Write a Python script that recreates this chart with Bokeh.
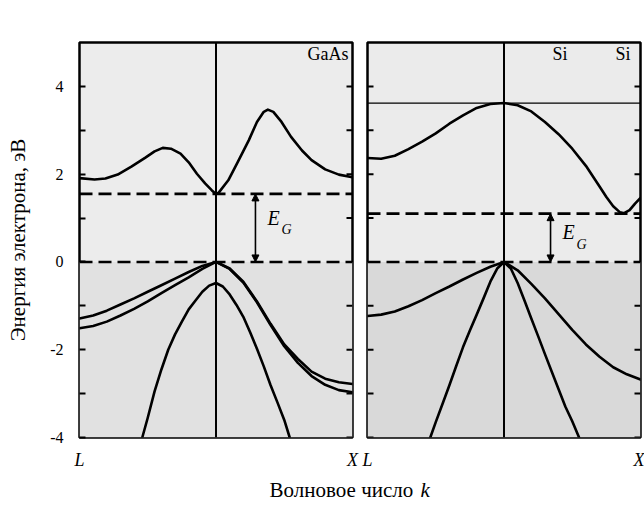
from math import pi

from bokeh.embed import file_html
from bokeh.layouts import column, row
from bokeh.models import (Arrow, BoxAnnotation, FixedTicker, Label, LinearAxis,
                          NormalHead, Range1d, Span)
from bokeh.plotting import figure
from bokeh.resources import INLINE

SERIF = "Liberation Serif"

# Wave vector along L -> Gamma -> X, scaled so that L = -1, Gamma = 0, X = +1.
# Energies in eV, measured from the top of the valence band.

# ---- GaAs ----
gaas_cb_k = [-1, -0.89, -0.81, -0.72, -0.62, -0.52, -0.45, -0.39, -0.33, -0.26, -0.20,
             -0.14, -0.08, -0.03, 0, 0.02, 0.09, 0.16, 0.24, 0.30, 0.35, 0.38, 0.42,
             0.48, 0.55, 0.63, 0.70, 0.80, 0.90, 1.0]
gaas_cb_e = [1.91, 1.88, 1.90, 1.99, 2.17, 2.37, 2.52, 2.60, 2.58, 2.47, 2.27,
             2.01, 1.79, 1.63, 1.55, 1.58, 1.86, 2.28, 2.77, 3.19, 3.42, 3.47, 3.42,
             3.19, 2.85, 2.54, 2.32, 2.11, 1.99, 1.93]

gaas_vb_k = [-1, -0.9, -0.8, -0.7, -0.6, -0.5, -0.4, -0.3, -0.2, -0.1, 0,
             0.1, 0.2, 0.3, 0.4, 0.5, 0.6, 0.7, 0.8, 0.9, 1.0]
gaas_hh_e = [-1.29, -1.22, -1.11, -0.97, -0.83, -0.68, -0.53, -0.38, -0.23, -0.09, 0,
             -0.15, -0.45, -0.90, -1.41, -1.88, -2.21, -2.50, -2.66, -2.74, -2.78]
gaas_lh_e = [-1.51, -1.46, -1.36, -1.22, -1.07, -0.90, -0.71, -0.53, -0.35, -0.16, 0,
             -0.16, -0.47, -0.92, -1.44, -1.92, -2.30, -2.60, -2.80, -2.92, -2.97]

gaas_so_k = [-0.54, -0.5, -0.45, -0.4, -0.35, -0.3, -0.25, -0.2, -0.15, -0.1, -0.05, 0,
             0.05, 0.1, 0.15, 0.2, 0.25, 0.3, 0.35, 0.4, 0.45, 0.5, 0.54]
gaas_so_e = [-4.0, -3.55, -2.95, -2.45, -2.0, -1.65, -1.36, -1.08, -0.88, -0.68, -0.54, -0.48,
             -0.56, -0.74, -0.98, -1.25, -1.60, -1.98, -2.38, -2.81, -3.20, -3.60, -4.0]

gaas_gap = 1.55

# ---- Si ----
si_cb_k = [-1, -0.9, -0.8, -0.7, -0.6, -0.5, -0.4, -0.3, -0.2, -0.1, 0,
           0.1, 0.2, 0.3, 0.4, 0.5, 0.6, 0.7, 0.75, 0.8, 0.85, 0.88, 0.92, 0.96, 1.0]
si_cb_e = [2.37, 2.35, 2.42, 2.57, 2.74, 2.93, 3.15, 3.34, 3.51, 3.60, 3.62,
           3.57, 3.43, 3.19, 2.91, 2.58, 2.19, 1.72, 1.48, 1.27, 1.13, 1.11, 1.18, 1.33, 1.46]

si_hh_k = [-1, -0.9, -0.8, -0.7, -0.6, -0.5, -0.4, -0.3, -0.2, -0.1, 0,
           0.1, 0.2, 0.3, 0.4, 0.5, 0.6, 0.7, 0.8, 0.9, 1.0]
si_hh_e = [-1.23, -1.20, -1.13, -1.01, -0.87, -0.71, -0.56, -0.40, -0.25, -0.11, 0,
           -0.19, -0.50, -0.83, -1.19, -1.55, -1.88, -2.16, -2.40, -2.56, -2.68]

si_lh_k = [-0.54, -0.5, -0.45, -0.4, -0.35, -0.3, -0.25, -0.2, -0.15, -0.1, -0.05, 0,
           0.05, 0.1, 0.15, 0.2, 0.25, 0.3, 0.35, 0.4, 0.45, 0.5, 0.55]
si_lh_e = [-4.0, -3.65, -3.23, -2.81, -2.37, -1.94, -1.56, -1.20, -0.83, -0.45, -0.15, 0,
           -0.15, -0.48, -0.88, -1.29, -1.69, -2.10, -2.50, -2.90, -3.30, -3.63, -4.0]

si_gap = 1.1
si_gamma_cb = 3.62

# ---- axes ----
E_MIN, E_MAX = -4, 5
K_MIN, K_MAX = -1, 1
e_ticks = [-4, -3, -2, -1, 0, 1, 2, 3, 4]
e_major_ticks = [-4, -2, 0, 2, 4]
e_minor_ticks = [-3, -1, 1, 3]
e_tick_labels = {-4: "-4", -2: "-2", 0: "0", 2: "2", 4: "4"}
e_title = "Энергия электрона, эВ"
k_ticks = [-1, 1]
k_tick_labels = {-1: "L", 1: "X"}

BAND_W = 2.6
DASH = "13 6"
TICK_LEN = 6


def inner_ticks(p, edge, direction):
    # short tick marks pointing into the frame from a vertical edge
    p.ray(x=[edge] * len(e_ticks), y=e_ticks, length=TICK_LEN, length_units="screen",
          angle=direction, line_color="black", line_width=2)


def make_panel(width, border_left, border_right, with_labels, upper_fill, lower_fill):
    p = figure(width=width, height=478, x_range=Range1d(K_MIN, K_MAX),
               y_range=Range1d(E_MIN, E_MAX), output_backend="svg",
               toolbar_location=None, x_axis_type=None, y_axis_type=None,
               min_border_left=border_left, min_border_right=border_right,
               min_border_top=42, min_border_bottom=41)
    p.background_fill_color = upper_fill
    p.border_fill_color = "white"
    p.outline_line_color = "black"
    p.outline_line_width = 2.5

    # darker shading of the filled (valence) region
    p.add_layout(BoxAnnotation(top=0, fill_color=lower_fill, fill_alpha=1.0,
                               line_color=None, level="underlay"))

    if with_labels:
        ax = LinearAxis(ticker=FixedTicker(ticks=e_major_ticks, minor_ticks=e_minor_ticks),
                        major_label_overrides=e_tick_labels, axis_label=e_title)
        ax.axis_line_color = None
        ax.major_tick_in = TICK_LEN
        ax.major_tick_out = 0
        ax.minor_tick_in = TICK_LEN
        ax.minor_tick_out = 0
        ax.major_tick_line_width = 2
        ax.minor_tick_line_width = 2
        ax.major_label_text_font = SERIF
        ax.major_label_text_font_size = "16px"
        ax.major_label_text_color = "black"
        ax.major_label_standoff = 16
        ax.axis_label_text_font = SERIF
        ax.axis_label_text_font_size = "21px"
        ax.axis_label_text_font_style = "normal"
        ax.axis_label_text_color = "black"
        ax.axis_label_standoff = 17
        p.add_layout(ax, "left")
    else:
        inner_ticks(p, K_MIN, 0)
    inner_ticks(p, K_MAX, pi)

    xb = LinearAxis(ticker=FixedTicker(ticks=k_ticks), major_label_overrides=k_tick_labels)
    xb.axis_line_color = None
    xb.major_tick_in = 0
    xb.major_tick_out = 0
    xb.major_label_text_font = SERIF
    xb.major_label_text_font_style = "italic"
    xb.major_label_text_font_size = "18px"
    xb.major_label_text_color = "black"
    xb.major_label_standoff = 12
    p.add_layout(xb, "below")

    # Gamma point
    p.add_layout(Span(location=0, dimension="height", line_color="black", line_width=2))
    return p


def label(p, x, y, text, size, style="normal", align="left", **kw):
    p.add_layout(Label(x=x, y=y, text=text, text_font=SERIF,
                       text_font_size=size, text_font_style=style,
                       text_align=align, text_color="black", **kw))


def gap_marker(p, k_pos, gap, e_y, g_y):
    p.add_layout(Arrow(x_start=k_pos, y_start=0, x_end=k_pos, y_end=gap,
                       line_width=1.6, line_color="black",
                       start=NormalHead(size=7, fill_color="black", line_color="black"),
                       end=NormalHead(size=7, fill_color="black", line_color="black")))
    label(p, k_pos + 0.088, e_y, "E", "20px", "italic")
    label(p, k_pos + 0.19, g_y, "G", "14px", "italic")


def band(p, k, e):
    p.line(k, e, line_color="black", line_width=BAND_W, line_join="round", line_cap="round")


# ---------- (а) GaAs ----------
pa = make_panel(360, 79, 8, True, "#ececec", "#e1e1e1")
for e in (0, gaas_gap):
    pa.add_layout(Span(location=e, dimension="width", line_color="black",
                       line_width=2.6, line_dash=DASH))
band(pa, gaas_cb_k, gaas_cb_e)
band(pa, gaas_vb_k, gaas_hh_e)
band(pa, gaas_vb_k, gaas_lh_e)
band(pa, gaas_so_k, gaas_so_e)
gap_marker(pa, 0.289, gaas_gap, 0.76, 0.56)
label(pa, 0.971, 4.52, "GaAs", "18px", align="right")
label(pa, -0.956, 5.43, "(а)", "17px")

# ---------- (б) Si ----------
pb = make_panel(284, 7, 4, False, "#ebebeb", "#d9d9d9")
for e in (0, si_gap):
    pb.add_layout(Span(location=e, dimension="width", line_color="black",
                       line_width=2.6, line_dash=DASH))
pb.add_layout(Span(location=si_gamma_cb, dimension="width", line_color="black",
                   line_width=1.2))
band(pb, si_cb_k, si_cb_e)
band(pb, si_hh_k, si_hh_e)
band(pb, si_lh_k, si_lh_e)
gap_marker(pb, 0.341, si_gap, 0.44, 0.22)
label(pb, 0.355, 4.52, "Si", "18px")
label(pb, 0.817, 4.52, "Si", "18px")
label(pb, -0.853, 5.43, "(б)", "17px")

# ---------- common k-axis title ----------
strip = figure(width=644, height=27, x_range=Range1d(0, 644), y_range=Range1d(0, 27),
               output_backend="svg", toolbar_location=None,
               x_axis_type=None, y_axis_type=None, min_border=0)
strip.outline_line_color = None
strip.background_fill_color = "white"
strip.border_fill_color = "white"
label(strip, 418, 4, "Волновое число ", "21px", align="right")
label(strip, 420, 4, "k", "21px", "italic")

layout = column(row(pa, pb), strip)
open("out.html", "w").write(file_html(layout, INLINE))
